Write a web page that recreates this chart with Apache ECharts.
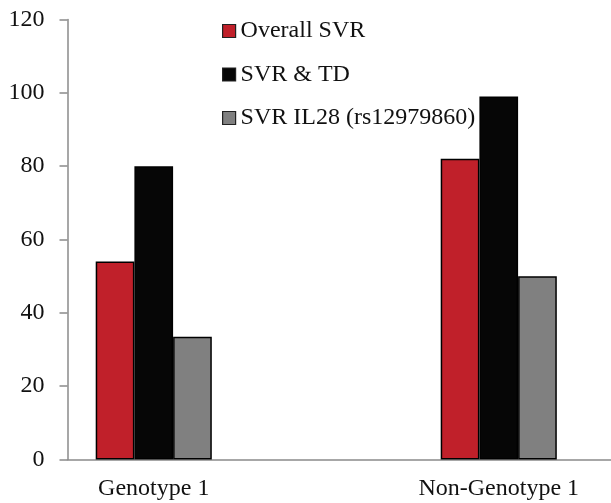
<!DOCTYPE html>
<html>
<head>
<meta charset="utf-8">
<script src="https://cdn.jsdelivr.net/npm/echarts@6/dist/echarts.min.js"></script>
<style>html,body{margin:0;padding:0;background:#fff}#c{width:611px;height:503px}</style>
</head>
<body>
<div id="c"></div>
<script>
const categories = ["Genotype 1", "", "Non-Genotype 1", ""];
const seriesNames = ["Overall SVR", "SVR & TD", "SVR IL28 (rs12979860)"];
const overallSVR = [54, null, 82, null];
const svrTD = [80, null, 99, null];
const svrIL28 = [33.5, null, 50, null];
const yTicks = [0, 20, 40, 60, 80, 100, 120];
const colors = ["#C0202A", "#060606", "#808080"];

const font = "Liberation Serif";
const chart = echarts.init(document.getElementById('c'));
const mk = (name, data, color) => ({
  name, type: 'bar', data, barWidth: 38.7, barGap: '0%',
  itemStyle: { color, borderColor: '#000', borderWidth: 1.5 }
});
chart.setOption({
  animation: false,
  grid: { left: 67.5, width: 690, top: 19.5, height: 440, outerBoundsMode: 'none', containLabel: false },
  legend: {
    orient: 'vertical', left: 222, top: 19, padding: 0, itemWidth: 13, itemHeight: 13,
    itemGap: 19.5, icon: 'rect',
    itemStyle: { borderColor: '#222', borderWidth: 1.2 },
    textStyle: { fontFamily: font, fontSize: 24, color: '#111', lineHeight: 23 },
    data: seriesNames
  },
  xAxis: {
    type: 'category', data: categories,
    axisLine: { lineStyle: { color: '#8a8a8a', width: 1.5 } },
    axisTick: { length: 7, lineStyle: { color: '#8a8a8a', width: 1.5 }, interval: (i) => i !== 3 },
    axisLabel: { fontFamily: font, fontSize: 24, color: '#111', margin: 17 }
  },
  yAxis: {
    type: 'value', min: yTicks[0], max: yTicks[yTicks.length-1], interval: 20,
    splitLine: { show: false },
    axisLine: { show: true, lineStyle: { color: '#8a8a8a', width: 1.5 } },
    axisTick: { show: true, length: 8, lineStyle: { color: '#8a8a8a', width: 1.5 } },
    axisLabel: { fontFamily: font, fontSize: 24, color: '#111', margin: 23 }
  },
  series: [
    mk(seriesNames[0], overallSVR, colors[0]),
    mk(seriesNames[1], svrTD, colors[1]),
    mk(seriesNames[2], svrIL28, colors[2])
  ]
});
</script>
</body>
</html>
